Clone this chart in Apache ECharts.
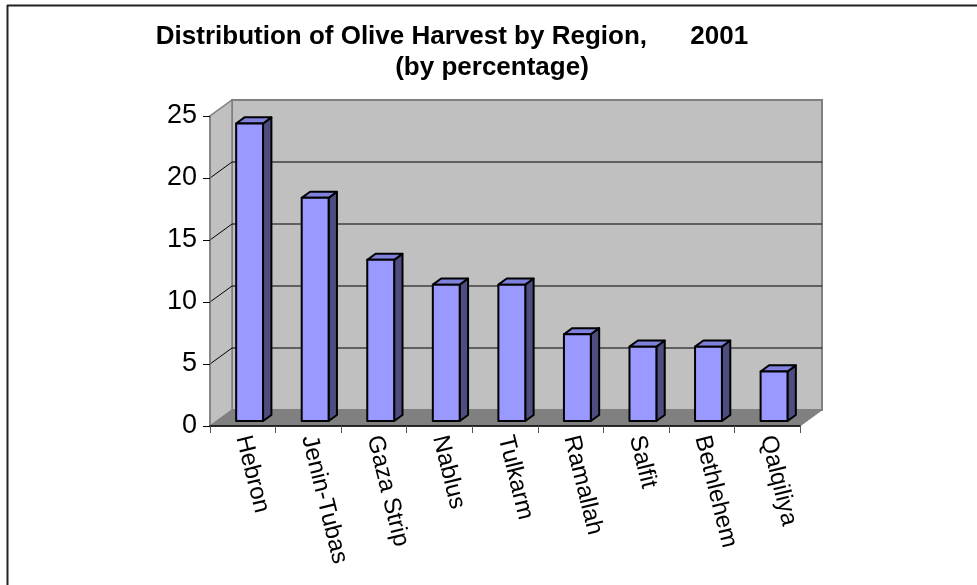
<!DOCTYPE html>
<html>
<head>
<meta charset="utf-8">
<script src="https://cdn.jsdelivr.net/npm/echarts@6/dist/echarts.min.js"></script>
<style>html,body{margin:0;padding:0;background:#fff;}#c{width:977px;height:585px;}</style>
</head>
<body>
<div id="c"></div>
<script>
const categories = ['Hebron','Jenin-Tubas','Gaza Strip','Nablus','Tulkarm','Ramallah','Salfit','Bethlehem','Qalqiliya'];
const values = [24, 18, 13, 11, 11, 7, 6, 6, 4];
const yTicks = [0, 5, 10, 15, 20, 25];
const titleLine1 = 'Distribution of Olive Harvest by Region,      2001';
const titleLine2 = '(by percentage)';

const DX = 22, DY = -16;          // depth offset of back wall
const BAR_F = 0.31, BAR_D = 0.38; // bar position / depth as fraction of full depth
const BAR_W = 0.41;               // bar width fraction of band
const FONT = 'Liberation Sans, Arial, sans-serif';
const yMax = yTicks[yTicks.length - 1];

function wallsRender(params, api) {
  if (params.dataIndex !== 0) return;
  const band = api.size([1, 0])[0];
  const x0 = api.coord([0, 0])[0] - band / 2;
  const x1 = api.coord([categories.length - 1, 0])[0] + band / 2;
  const y0 = api.coord([0, 0])[1];
  const yT = api.coord([0, yMax])[1];
  const children = [];
  children.push({type: 'rect', shape: {x: x0 + DX, y: yT + DY, width: x1 - x0, height: y0 - yT},
    style: {fill: '#C0C0C0', stroke: '#808080', lineWidth: 2}});
  children.push({type: 'polygon', shape: {points: [[x0, y0], [x0, yT], [x0 + DX, yT + DY], [x0 + DX, y0 + DY]]},
    style: {fill: '#C0C0C0', stroke: '#808080', lineWidth: 1.5}});
  children.push({type: 'polygon', shape: {points: [[x0, y0], [x1, y0], [x1 + DX, y0 + DY], [x0 + DX, y0 + DY]]},
    style: {fill: '#808080', stroke: '#808080', lineWidth: 1}});
  yTicks.forEach(function (v) {
    if (v === 0 || v === yMax) return;
    const y = api.coord([0, v])[1];
    children.push({type: 'line', shape: {x1: x0 + DX, y1: y + DY, x2: x1 + DX, y2: y + DY},
      style: {stroke: '#000', lineWidth: 1}});
    children.push({type: 'line', shape: {x1: x0, y1: y, x2: x0 + DX, y2: y + DY},
      style: {stroke: '#000', lineWidth: 1}});
  });
  return {type: 'group', children: children};
}

function barRender(params, api) {
  const band = api.size([1, 0])[0];
  const c = api.coord([api.value(0), api.value(1)]);
  const b = api.coord([api.value(0), 0]);
  const w = band * BAR_W;
  const ox = DX * BAR_F, oy = DY * BAR_F;
  const dx = DX * BAR_D, dy = DY * BAR_D;
  const xl = c[0] - w / 2 + ox, xr = c[0] + w / 2 + ox;
  const yt = c[1] + oy, yb = b[1] + oy;
  const st = {stroke: '#000', lineWidth: 2, lineJoin: 'round'};
  return {type: 'group', children: [
    {type: 'polygon', shape: {points: [[xr, yb], [xr, yt], [xr + dx, yt + dy], [xr + dx, yb + dy]]},
      style: Object.assign({fill: '#4D4D80'}, st)},
    {type: 'polygon', shape: {points: [[xl, yt], [xr, yt], [xr + dx, yt + dy], [xl + dx, yt + dy]]},
      style: Object.assign({fill: '#8080DD'}, st)},
    {type: 'rect', shape: {x: xl, y: yt, width: xr - xl, height: yb - yt},
      style: Object.assign({fill: '#9999FF'}, st)}
  ]};
}

const chart = echarts.init(document.getElementById('c'), null, {renderer: 'canvas'});
chart.setOption({
  backgroundColor: '#fff',
  animation: false,
  title: [
    {text: titleLine1, left: 452, top: 24, textAlign: 'center', padding: 0,
      textStyle: {fontFamily: FONT, fontWeight: 'bold', fontSize: 26, color: '#000'}},
    {text: titleLine2, left: 492, top: 55, textAlign: 'center', padding: 0,
      textStyle: {fontFamily: FONT, fontWeight: 'bold', fontSize: 26, color: '#000'}}
  ],
  grid: {left: 210, top: 116, width: 590, height: 310, containLabel: false},
  xAxis: {
    type: 'category', data: categories, z: 10,
    axisLine: {show: true, lineStyle: {color: '#000', width: 1.5}},
    axisTick: {show: true, length: 7, lineStyle: {color: '#555'}},
    axisLabel: {interval: 0, rotate: -76, fontFamily: FONT, fontSize: 24, color: '#000', margin: 10}
  },
  yAxis: {
    type: 'value', min: 0, max: 25, interval: 5, z: 10,
    axisLine: {show: true, lineStyle: {color: '#808080', width: 1.5}},
    axisTick: {show: true, length: 7, lineStyle: {color: '#000'}},
    axisLabel: {fontFamily: FONT, fontSize: 27, color: '#000', margin: 13},
    splitLine: {show: false}
  },
  graphic: [
    {type: 'line', shape: {x1: 7.5, y1: 5, x2: 7.5, y2: 585}, style: {stroke: '#222', lineWidth: 2}},
    {type: 'line', shape: {x1: 7, y1: 5.5, x2: 977, y2: 5.5}, style: {stroke: '#222', lineWidth: 2}}
  ],
  series: [
    {type: 'custom', renderItem: wallsRender, data: [[0, 0]], z: 1, silent: true},
    {type: 'custom', renderItem: barRender, z: 3,
      data: values.map(function (v, i) { return [i, v]; })}
  ]
});
</script>
</body>
</html>
